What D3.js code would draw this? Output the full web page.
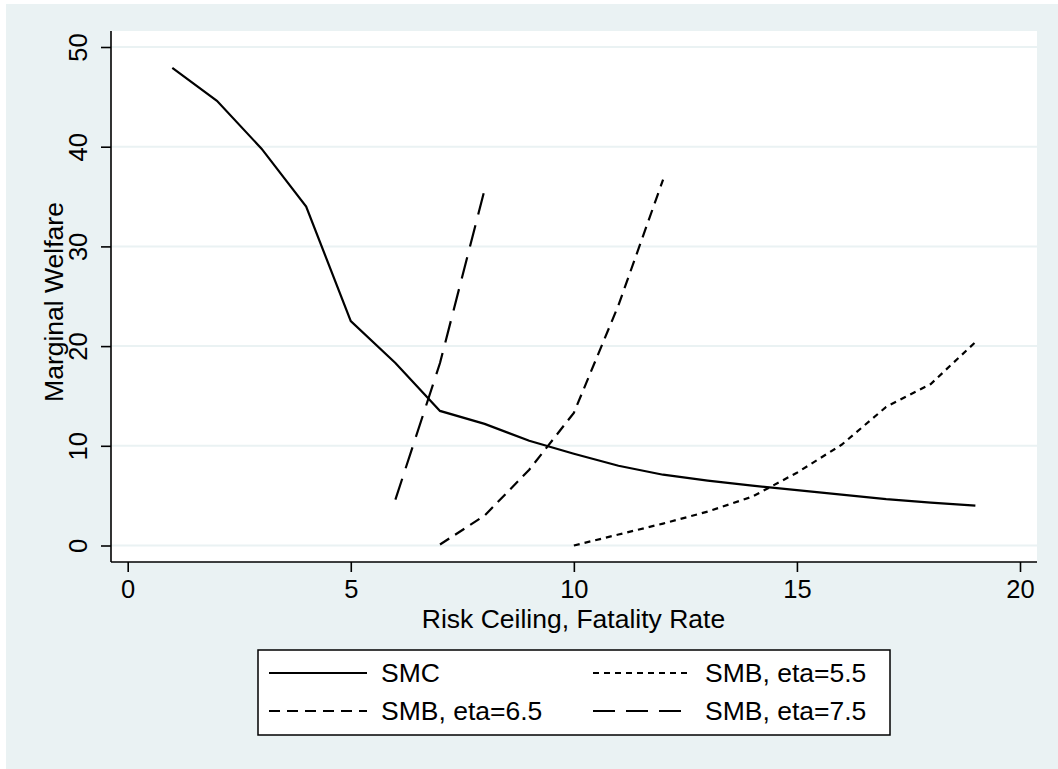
<!DOCTYPE html>
<meta charset="utf-8">
<head>
    <script src="https://d3js.org/d3.v7.min.js"></script>
    <style>
        body { margin: 0; background: white; }
        text { font-family: "Liberation Sans", Arial, Helvetica, sans-serif; fill: #000; }
    </style>
</head>
<body>
<div id="chart"></div>
<script>
    // risk ceiling values (x)
    const riskSMC = [1, 2, 3, 4, 5, 6, 7, 8, 9, 10, 11, 12, 13, 14, 15, 16, 17, 18, 19];
    const welfareSMC = [47.9, 44.6, 39.8, 34.0, 22.5, 18.3, 13.5, 12.2, 10.5, 9.2, 8.0, 7.1, 6.5, 6.0, 5.55, 5.1, 4.65, 4.3, 4.0];

    const riskEta55 = [10, 11, 12, 13, 14, 15, 16, 17, 18, 19];
    const welfareEta55 = [0.0, 1.1, 2.2, 3.4, 4.9, 7.3, 10.1, 13.9, 16.2, 20.4];

    const riskEta65 = [7, 8, 9, 10, 11, 12];
    const welfareEta65 = [0.1, 3.0, 7.6, 13.3, 24.1, 36.7];

    const riskEta75 = [6, 7, 8];
    const welfareEta75 = [4.6, 18.3, 35.7];

    const xTicks = [0, 5, 10, 15, 20];
    const yTicks = [0, 10, 20, 30, 40, 50];

    const legendLabels = ["SMC", "SMB, eta=5.5", "SMB, eta=6.5", "SMB, eta=7.5"];

    const W = 1058, H = 769;
    const plot = { left: 111, top: 31, right: 1037, bottom: 562 };
    const bg = "#eaf2f3";

    const svg = d3.select("#chart").append("svg")
        .attr("width", W)
        .attr("height", H);

    svg.append("rect")
        .attr("x", 6).attr("y", 4)
        .attr("width", W - 6).attr("height", H - 4)
        .attr("fill", bg);

    svg.append("rect")
        .attr("x", plot.left).attr("y", plot.top)
        .attr("width", plot.right - plot.left)
        .attr("height", plot.bottom - plot.top)
        .attr("fill", "white");

    const x = d3.scaleLinear()
        .domain([0, 20])
        .range([127.7, 1020]);

    const y = d3.scaleLinear()
        .domain([0, 50])
        .range([545.5, 47]);

    // gridlines
    svg.append("g")
        .selectAll("line")
        .data(yTicks)
        .enter()
        .append("line")
        .attr("x1", plot.left)
        .attr("x2", plot.right)
        .attr("y1", d => y(d))
        .attr("y2", d => y(d))
        .attr("stroke", bg)
        .attr("stroke-width", 2);

    // axes
    const leftAxis = d3.axisLeft(y)
        .tickValues(yTicks)
        .tickSize(10)
        .tickFormat(d3.format("d"));

    const gy = svg.append("g")
        .attr("transform", `translate(${plot.left}, 0)`)
        .call(leftAxis);
    gy.select(".domain").remove();
    gy.selectAll(".tick line").attr("stroke", "#000").attr("stroke-width", 1.6);
    gy.selectAll(".tick text")
        .attr("x", null).attr("dy", null)
        .attr("text-anchor", "middle")
        .attr("transform", "translate(-24, 0) rotate(-90)")
        .style("font-size", "25.5px")
        .style("font-family", "'Liberation Sans', Arial, sans-serif");

    const bottomAxis = d3.axisBottom(x)
        .tickValues(xTicks)
        .tickSize(10)
        .tickFormat(d3.format("d"));

    const gx = svg.append("g")
        .attr("transform", `translate(0, ${plot.bottom})`)
        .call(bottomAxis);
    gx.select(".domain").remove();
    gx.selectAll(".tick line").attr("stroke", "#000").attr("stroke-width", 1.6);
    gx.selectAll(".tick text")
        .attr("y", 35.5).attr("dy", null)
        .style("font-size", "25.5px")
        .style("font-family", "'Liberation Sans', Arial, sans-serif");

    svg.append("line")
        .attr("x1", plot.left).attr("x2", plot.left)
        .attr("y1", plot.top).attr("y2", plot.bottom)
        .attr("stroke", "#000").attr("stroke-width", 1.6);
    svg.append("line")
        .attr("x1", plot.left).attr("x2", plot.right)
        .attr("y1", plot.bottom).attr("y2", plot.bottom)
        .attr("stroke", "#000").attr("stroke-width", 1.6);

    // axis titles
    svg.append("text")
        .attr("x", 573.5)
        .attr("y", 628)
        .attr("text-anchor", "middle")
        .style("font-size", "26.5px")
        .text("Risk Ceiling, Fatality Rate");

    svg.append("text")
        .attr("transform", "translate(63, 302) rotate(-90)")
        .attr("text-anchor", "middle")
        .style("font-size", "26.5px")
        .text("Marginal Welfare");

    // series
    const series = [
        { xs: riskSMC, ys: welfareSMC, dash: null },
        { xs: riskEta55, ys: welfareEta55, dash: "6,5" },
        { xs: riskEta65, ys: welfareEta65, dash: "11,7" },
        { xs: riskEta75, ys: welfareEta75, dash: "22,11" }
    ];

    const line = d3.line()
        .x(d => x(d[0]))
        .y(d => y(d[1]));

    svg.append("g")
        .selectAll("path")
        .data(series)
        .enter()
        .append("path")
        .attr("d", s => line(d3.zip(s.xs, s.ys)))
        .attr("fill", "none")
        .attr("stroke", "#000")
        .attr("stroke-width", 2.2)
        .attr("stroke-dasharray", s => s.dash);

    // legend
    const legend = svg.append("g");
    legend.append("rect")
        .attr("x", 258).attr("y", 650)
        .attr("width", 632).attr("height", 85)
        .attr("fill", "white")
        .attr("stroke", "#000")
        .attr("stroke-width", 1.5);

    const legendPos = [
        { sx: 269, tx: 381, ty: 673 },
        { sx: 593, tx: 705, ty: 673 },
        { sx: 269, tx: 381, ty: 711 },
        { sx: 593, tx: 705, ty: 711 }
    ];

    const items = legend.selectAll("g.item")
        .data(legendLabels)
        .enter()
        .append("g")
        .attr("class", "item");

    items.append("line")
        .attr("x1", (d, i) => legendPos[i].sx)
        .attr("x2", (d, i) => legendPos[i].sx + 98)
        .attr("y1", (d, i) => legendPos[i].ty)
        .attr("y2", (d, i) => legendPos[i].ty)
        .attr("stroke", "#000")
        .attr("stroke-width", 2.2)
        .attr("stroke-dasharray", (d, i) => series[i].dash);

    items.append("text")
        .attr("x", (d, i) => legendPos[i].tx)
        .attr("y", (d, i) => legendPos[i].ty)
        .attr("dy", "0.35em")
        .style("font-size", "26.5px")
        .text(d => d);
</script>
</body>
